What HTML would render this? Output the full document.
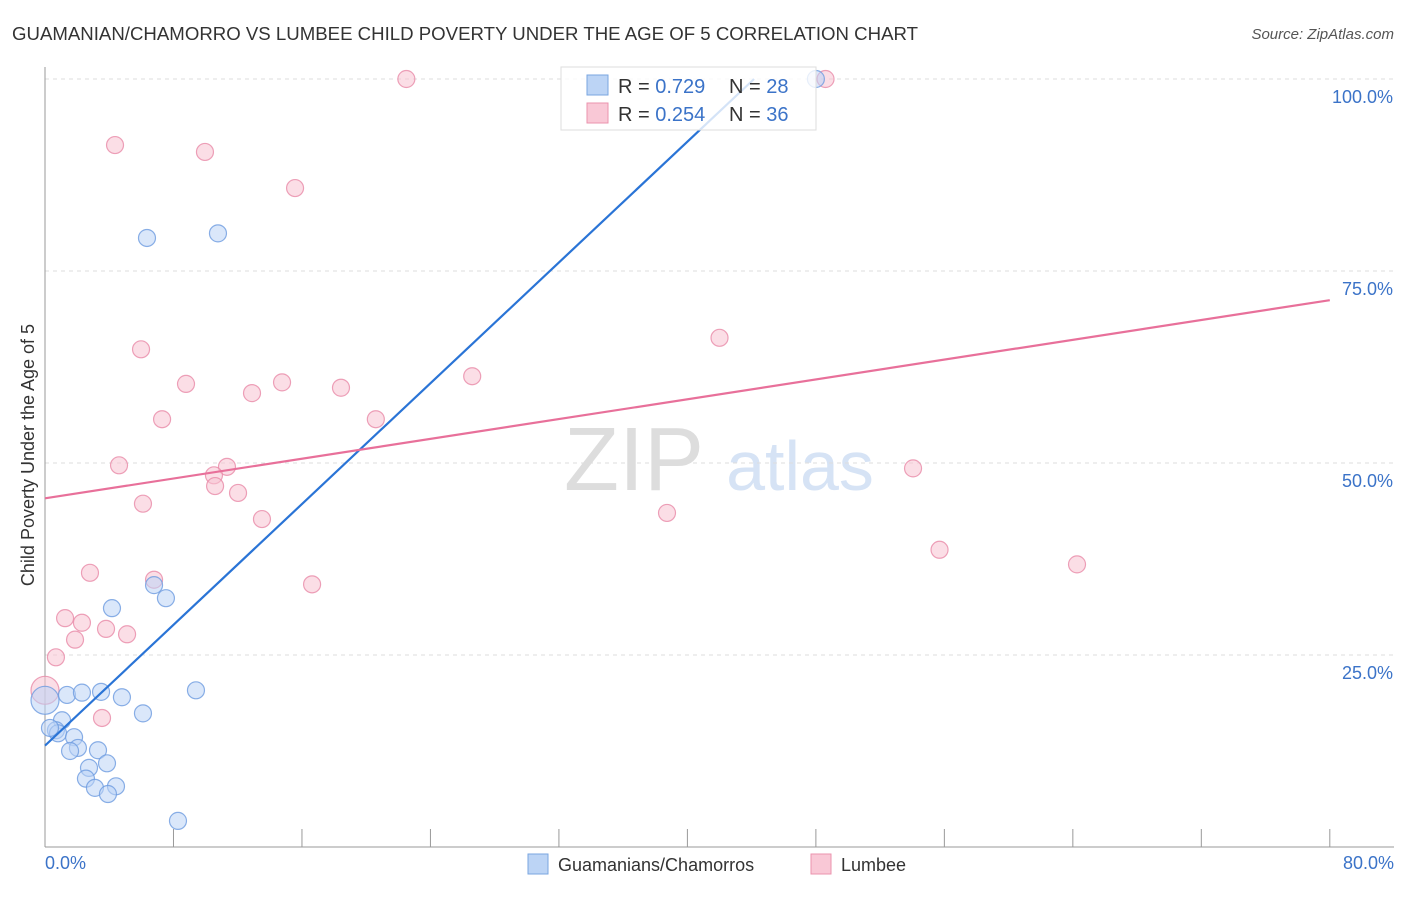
<!DOCTYPE html>
<html><head><meta charset="utf-8"><style>
body{margin:0;background:#fff;font-family:"Liberation Sans",sans-serif;}
svg text{font-family:"Liberation Sans",sans-serif;}
</style></head><body>
<svg width="1406" height="892" xmlns="http://www.w3.org/2000/svg" id="chart">
<text x="12" y="40" font-size="18" fill="#333" textLength="906" lengthAdjust="spacingAndGlyphs">GUAMANIAN/CHAMORRO VS LUMBEE CHILD POVERTY UNDER THE AGE OF 5 CORRELATION CHART</text>
<text x="1394" y="39" font-size="15" fill="#555" font-style="italic" text-anchor="end">Source: ZipAtlas.com</text>
<text x="634" y="490" font-size="90" fill="#ddd" font-family="Liberation Serif" text-anchor="middle">ZIP</text>
<text x="800" y="490" font-size="70" fill="#d6e3f5" text-anchor="middle">atlas</text>
<g id="grid"></g>
<g id="axes"></g>
<g id="pts"></g>
<g id="trend"></g>
<text transform="translate(34,455) rotate(-90)" font-size="18" fill="#333" text-anchor="middle">Child Poverty Under the Age of 5</text>
<text x="45" y="869" font-size="18" fill="#3b73c8">0.0%</text>
<text x="1394" y="869" font-size="18" fill="#3b73c8" text-anchor="end">80.0%</text>
<g>
<rect x="561" y="67" width="255" height="63" fill="#fff" fill-opacity="0.8" stroke="#ddd"/>
<rect x="587" y="75" width="21" height="20" fill="#bcd4f5" stroke="#7aa6e0"/>
<rect x="587" y="103" width="21" height="20" fill="#f9c8d6" stroke="#eb93ae"/>
<text x="618" y="93" font-size="20" fill="#333">R = <tspan fill="#3b73c8">0.729</tspan></text>
<text x="729" y="93" font-size="20" fill="#333">N = <tspan fill="#3b73c8">28</tspan></text>
<text x="618" y="121" font-size="20" fill="#333">R = <tspan fill="#3b73c8">0.254</tspan></text>
<text x="729" y="121" font-size="20" fill="#333">N = <tspan fill="#3b73c8">36</tspan></text>
</g>
<g>
<rect x="528" y="854" width="20" height="20" fill="#bcd4f5" stroke="#7aa6e0"/>
<text x="558" y="871" font-size="18" fill="#333">Guamanians/Chamorros</text>
<rect x="811" y="854" width="20" height="20" fill="#f9c8d6" stroke="#eb93ae"/>
<text x="841" y="871" font-size="18" fill="#333">Lumbee</text>
</g>
</svg>
<script>
const blueX=[6.35,10.77,48.0,6.79,7.53,4.17,9.40,1.37,2.30,3.49,4.79,6.10,0,1.06,0.68,0.81,1.81,2.05,1.56,3.30,3.86,2.74,2.55,3.11,4.42,3.92,8.28,0.31];
const blueY=[79.3,79.9,100,34.1,32.4,31.1,20.4,19.8,20.1,20.2,19.5,17.4,19.1,16.5,15.2,14.8,14.3,12.9,12.5,12.6,10.9,10.3,8.9,7.7,7.9,6.9,3.4,15.5];
const pinkX=[22.5,48.6,4.36,9.96,15.57,5.98,42.0,8.78,14.76,12.89,18.43,26.6,7.29,20.6,4.61,11.33,10.52,10.59,12.02,54.05,6.10,13.51,38.73,55.7,64.26,6.79,16.63,2.80,1.25,2.30,3.80,5.11,1.87,0.68,3.55,0];
const pinkY=[100,100,91.4,90.5,85.8,64.8,66.3,60.3,60.5,59.1,59.8,61.3,55.7,55.7,49.7,49.5,48.4,47.0,46.1,49.3,44.7,42.7,43.5,38.7,36.8,34.8,34.2,35.7,29.8,29.2,28.4,27.7,27.0,24.7,16.8,20.4];
const yTicks=[25,50,75,100];
const yTickLabels=["25.0%","50.0%","75.0%","100.0%"];
const xTicks=[0,8,16,24,32,40,48,56,64,72,80];
const blueTrend=[13.2,1.966];
const pinkTrend=[45.4,0.3225];
const NS="http://www.w3.org/2000/svg";
const X=v=>45+v*16.06, Y=v=>847-v*7.68;
function mk(t,a,p){const e=document.createElementNS(NS,t);for(const k in a)e.setAttribute(k,a[k]);p.appendChild(e);return e;}
const grid=document.getElementById('grid'),axes=document.getElementById('axes'),pts=document.getElementById('pts'),tr=document.getElementById('trend');
yTicks.forEach((v,i)=>{
 const l=mk('line',{x1:45,x2:1394,y1:Y(v),y2:Y(v),stroke:'#ddd','stroke-dasharray':'4,4'},grid);
 
 
 const t=mk('text',{x:1393,y:Y(v)+24,'font-size':18,fill:'#3b73c8','text-anchor':'end'},grid);
 t.textContent=yTickLabels[i];
 
 
});
const ya=mk('line',{x1:45,x2:45,y1:67,y2:847,stroke:'#999'},axes);


const xa=mk('line',{x1:45,x2:1394,y1:847,y2:847,stroke:'#999'},axes);


xTicks.forEach(v=>{
 const l=mk('line',{x1:X(v),x2:X(v),y1:829,y2:847,stroke:'#999'},axes);
 
 
});
function dots(xs,ys,fill,stroke,name){
 xs.forEach((x,i)=>{
  const big=(x===0);
  const c=mk('circle',{cx:X(x),cy:Y(ys[i]),r:big?14:8.5,fill:fill,'fill-opacity':0.55,stroke:stroke,'stroke-opacity':0.8,'stroke-width':1.2},pts);
  
  
 });
}
dots(pinkX,pinkY,'#f7c2d2','#e88aa8','lumbee-point');
dots(blueX,blueY,'#bcd4f5','#6d9be0','guamanian-point');
const bx2=(100-blueTrend[0])/blueTrend[1];
const bl=mk('line',{x1:X(0),y1:Y(blueTrend[0]),x2:X(bx2),y2:Y(100),stroke:'#2a74d6','stroke-width':2.2},tr);


const pl=mk('line',{x1:X(0),y1:Y(pinkTrend[0]),x2:X(80),y2:Y(pinkTrend[0]+80*pinkTrend[1]),stroke:'#e8709a','stroke-width':2.2},tr);


</script>
</body></html>
